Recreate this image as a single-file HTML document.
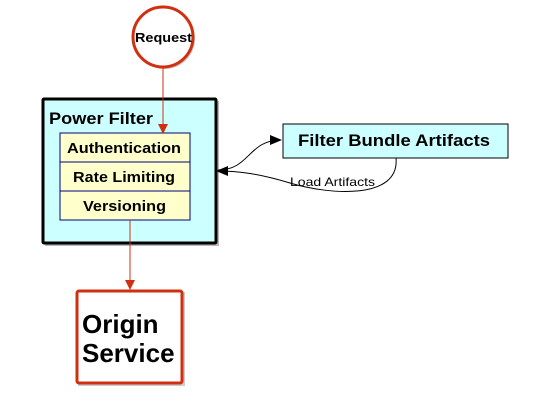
<!DOCTYPE html>
<html><head><style>html,body{margin:0;padding:0;background:#fff}svg{display:block}</style></head>
<body>
<svg width="535" height="408" viewBox="0 0 535 408" xmlns="http://www.w3.org/2000/svg" font-family="Liberation Sans, Arial, sans-serif">
<defs>
<marker id="ar" markerWidth="10" markerHeight="10" refX="9" refY="5" orient="auto" markerUnits="userSpaceOnUse"><path d="M0,0 L10,5 L0,10 z" fill="#d03010"/></marker>
<marker id="ab" markerWidth="12" markerHeight="10" refX="11" refY="5" orient="auto" markerUnits="userSpaceOnUse"><path d="M0,0 L12,5 L0,10 z" fill="#000"/></marker>
</defs>
<rect x="45" y="101" width="174" height="145" fill="#888" opacity="0.6"/>
<rect x="43" y="99" width="173" height="144" fill="#ccffff" stroke="#000" stroke-width="3" rx="1"/>
<text x="49" y="124" font-size="17" font-weight="bold" textLength="104" lengthAdjust="spacingAndGlyphs">Power Filter</text>
<rect x="60" y="133" width="130" height="87" fill="#ffffcc" stroke="#000080" stroke-width="1"/>
<line x1="60" y1="162" x2="190" y2="162" stroke="#000080"/>
<line x1="60" y1="191" x2="190" y2="191" stroke="#000080"/>
<text x="67" y="153" font-size="15" font-weight="bold" textLength="114" lengthAdjust="spacingAndGlyphs">Authentication</text>
<text x="73" y="182" font-size="15" font-weight="bold" textLength="102" lengthAdjust="spacingAndGlyphs">Rate  Limiting</text>
<text x="83" y="211" font-size="15" font-weight="bold" textLength="83" lengthAdjust="spacingAndGlyphs">Versioning</text>
<circle cx="165" cy="39" r="30" fill="#999" opacity="0.5"/>
<circle cx="163" cy="37" r="30" fill="#fff" stroke="#d03010" stroke-width="3"/>
<text x="135" y="42" font-size="13" font-weight="bold" textLength="57" lengthAdjust="spacingAndGlyphs">Request</text>
<line x1="163" y1="67" x2="163" y2="133" stroke="#d03010" stroke-width="1" marker-end="url(#ar)"/>
<line x1="130" y1="220" x2="130" y2="289" stroke="#d03010" stroke-width="1" marker-end="url(#ar)"/>
<rect x="78" y="292" width="107" height="94" fill="#999" opacity="0.5"/>
<rect x="77" y="291" width="105" height="92" fill="#fff" stroke="#d03010" stroke-width="3" rx="2"/>
<text x="82" y="333" font-size="26" font-weight="bold">Origin</text>
<text x="82" y="362" font-size="26" font-weight="bold">Service</text>
<rect x="283" y="124" width="225" height="34" fill="#ccffff" stroke="#000" stroke-width="1"/>
<text x="298" y="146" font-size="17" font-weight="bold" textLength="192" lengthAdjust="spacingAndGlyphs">Filter Bundle Artifacts</text>
<path d="M218,170 C250,170 248,140 281,140" fill="none" stroke="#000" stroke-width="1" marker-end="url(#ab)"/>
<path d="M396,158 C400,200 330,195 290,183 C260,174 240,171 217,171" fill="none" stroke="#000" stroke-width="1" marker-end="url(#ab)"/>
<text x="290" y="186" font-size="12" textLength="85" lengthAdjust="spacingAndGlyphs">Load  Artifacts</text>
</svg>
</body></html>
